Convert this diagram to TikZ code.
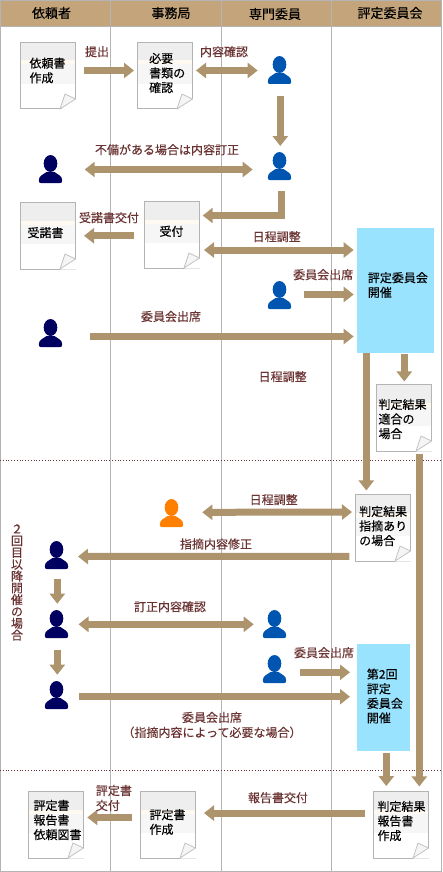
\documentclass[tikz,border=0pt]{standalone}
\usepackage{fontspec}
\usetikzlibrary{arrows.meta}
\setmainfont[FakeBold=0.25]{Noto Sans CJK JP}
\definecolor{headtan}{HTML}{C4A57B}
\definecolor{lanegray}{HTML}{B4B4B4}
\definecolor{flowtan}{HTML}{AD946D}
\definecolor{labred}{HTML}{6B3232}
\definecolor{boxblue}{HTML}{99E3FF}
\definecolor{pblue}{HTML}{0055B0}
\definecolor{pnavy}{HTML}{000060}
\definecolor{porange}{HTML}{FF8000}
\tikzset{
  lane/.style={draw=lanegray,line width=1pt},
  sepline/.style={draw=labred,line width=0.8pt,dotted},
  headlab/.style={font=\fontsize{13}{15}\selectfont,text=black,inner sep=0pt},
  lab/.style={font=\fontsize{12}{15}\selectfont,text=labred,inner sep=0pt,align=center},
  doctext/.style={font=\fontsize{12}{14.6}\selectfont,text=black,inner sep=0pt,align=left,anchor=west},
  docbox/.style={draw=lanegray,line width=1pt,minimum width=55pt,minimum height=66.5pt,inner sep=0pt},
  bluebox/.style={fill=boxblue,inner sep=0pt},
  conn/.style={draw=flowtan,line width=7pt,-{Triangle[length=10pt,width=15pt]}},
  conntwo/.style={draw=flowtan,line width=7pt,{Triangle[length=10pt,width=15pt]}-{Triangle[length=10pt,width=15pt]}},
  pnode/.style={inner sep=0pt,minimum width=23pt,minimum height=28pt}
}
% name, left, top, text left, text middle, text
\newcommand{\docn}[6]{%
  \node[docbox,fill=white] (#1) at (#2+27.5,#3+33.25) {};
  \begin{scope}[shift={(#2,#3)}]
    \fill[black!6.5] (0.5,0.5) rectangle (54.5,18);
    \fill[orange!5] (0.5,18) rectangle (54.5,22);
    \fill[black!3.5] (0.5,22) rectangle (54.5,41.5);
    \fill[white] (55.7,56.5) -- (55.7,67.2) -- (39.5,67.2) -- cycle;
    \draw[lanegray!80,line width=0.8pt,fill=black!4,line join=round] (55,56.5) -- (44.5,51.5) -- (39.5,66.5) -- cycle;
  \end{scope}
  \node[doctext] (#1t) at (#4,#5) {#6};
}
% name, centre x, top, colour
\newcommand{\persn}[4]{%
  \node[pnode] (#1) at (#2,#3+14) {};
  \begin{scope}[shift={(#2,#3)}]
    \fill[#4] (0,8.5) ellipse [x radius=6.8,y radius=8.5];
    \fill[#4] (-11.7,25.5) .. controls (-11.7,20.5) and (-7,19.5) .. (-4,17)
      -- (4,17) .. controls (7,19.5) and (11.7,20.5) .. (11.7,25.5)
      .. controls (11.7,27.5) and (11,28) .. (9.5,28) -- (-9.5,28)
      .. controls (-11,28) and (-11.7,27.5) .. (-11.7,25.5) -- cycle;
  \end{scope}
}
\newcommand{\conn}[5][conn]{\draw[#1] ([shift={(#3)}]#2.center) -- ([shift={(#5)}]#4.center);}
\begin{document}
\begin{tikzpicture}[x=1pt,y=-1pt]
\useasboundingbox (0,0) rectangle (442,872);
\fill[white] (0,0) rectangle (442,872);
% header and lanes
\fill[headtan] (0,0) rectangle (442,26);
\draw[lane] (0,0.5) -- (442,0.5);
\draw[lane] (0,26.3) -- (442,26.3);
\draw[lane] (0,871.5) -- (442,871.5);
\foreach \lx in {0.6,110.5,221.5,331.5,441.4} \draw[lane] (\lx,0) -- (\lx,872);
\node[headlab] (h1) at (51.5,13) {依頼者};
\node[headlab] (h2) at (171,13) {事務局};
\node[headlab] (h3) at (275,14) {専門委員};
\node[headlab] (h4) at (390,13) {評定委員会};
% separators
\coordinate (s1l) at (0,460.5); \coordinate (s1r) at (442,460.5);
\coordinate (s2l) at (0,770.5); \coordinate (s2r) at (442,770.5);
\draw[sepline] (s1l) -- (s1r);
\draw[sepline] (s2l) -- (s2r);
% blue boxes
\node[bluebox,minimum width=77pt,minimum height=125pt] (b1) at (395.5,290.5) {};
\node[bluebox,minimum width=53pt,minimum height=107pt] (b2) at (383.5,697.5) {};
\node[doctext] (b1t) at (367.7,285) {評定委員会\\開催};
\node[doctext] (b2t) at (366.7,696) {第2回\\評定\\委員会\\開催};
% documents
\docn{d1}{20.5}{42.5}{29.3}{70.5}{依頼書\\作成}
\docn{d2}{137.5}{42.5}{149}{73}{必要\\書類の\\確認}
\docn{d3}{20.5}{202.5}{27.3}{232.7}{受諾書}
\docn{d4}{144.5}{201.5}{159.3}{231.3}{受付}
\docn{d5}{376.5}{384.5}{378.3}{419}{判定結果\\適合の\\場合}
\docn{d6}{355.5}{494.5}{359}{526}{判定結果\\指摘あり\\の場合}
\docn{d7}{373.5}{791.5}{377.3}{821}{判定結果\\報告書\\作成}
\docn{d8}{28.5}{791.5}{33.3}{820}{評定書\\報告書\\依頼図書}
\docn{d9}{140.5}{791.5}{149.3}{822}{評定書\\作成}
% persons
\persn{p1}{279.5}{56}{pblue}
\persn{p2}{279.5}{152}{pblue}
\persn{p3}{279.5}{281}{pblue}
\persn{p4}{274.5}{610}{pblue}
\persn{p5}{274.5}{655}{pblue}
\persn{n1}{50.5}{155}{pnavy}
\persn{n2}{50.5}{319}{pnavy}
\persn{n3}{56.5}{541}{pnavy}
\persn{n4}{56.5}{610}{pnavy}
\persn{n5}{56.5}{681}{pnavy}
\persn{o1}{171.5}{499}{porange}
% connectors
\conn{d1}{36,-5.25}{d2}{-31,-5.25}
\conn[conntwo]{d2}{31,-5.25}{p1}{-21.8,0.5}
\conn{p1}{0.8,26}{p2}{0.8,-20}
\conn[conntwo]{n1}{34.2,0.5}{p2}{-26.8,3.5}
\draw[conn] ([shift={(2,25)}]p2.center) |- ([shift={(30.7,-19.25)}]d4.center);
\conn{d4}{-38,1}{d3}{36,0}
\conn[conntwo]{d4}{32,15.25}{b1}{-41.8,-40.5}
\conn{p3}{24.5,-0.5}{b1}{-41.8,4}
\conn{n2}{39.5,3.5}{b1}{-41.8,46}
\conn{b1}{-29.2,62.5}{d6}{-16.7,-37.3}
\conn{b1}{8.8,63.5}{d5}{0.3,-36.3}
\conn{d5}{15.3,36}{d7}{18.3,-38.3}
\conn[conntwo]{o1}{30.8,-0.7}{d6}{-31,-15.7}
\conn{d6}{-33.7,28.5}{n3}{21.5,1.5}
\conn{n3}{0.8,24}{n4}{0.8,-20.3}
\conn[conntwo]{n4}{22,0.3}{p4}{-20.8,0.3}
\conn{n4}{0.8,26}{n5}{0.8,-20.3}
\conn{p5}{25.5,3.3}{b2}{-33.5,-25.2}
\conn{n5}{22.5,1.7}{b2}{-33.5,-0.8}
\conn{b2}{2.8,55.8}{d7}{-14.7,-38.7}
\conn{d7}{-36.3,-11.7}{d9}{36,-11.7}
\conn{d9}{-36.3,-7.3}{d8}{31.3,-7.3}
% labels
\node[lab] (l1) at (97,51.7) {提出};
\node[lab] (l2) at (224,51.7) {内容確認};
\node[lab] (l3) at (167,149.7) {不備がある場合は内容訂正};
\node[lab] (l4) at (109,217.7) {受諾書交付};
\node[lab] (l5) at (276.7,236.7) {日程調整};
\node[lab] (l6) at (323.2,274.7) {委員会出席};
\node[lab] (l7) at (171,316.5) {委員会出席};
\node[lab] (l8) at (282.7,376.7) {日程調整};
\node[lab] (l9) at (273.7,499.7) {日程調整};
\node[lab] (l10) at (216,544) {指摘内容修正};
\node[lab] (l11) at (170,606.7) {訂正内容確認};
\node[lab] (l12) at (324,652.7) {委員会出席};
\node[lab] (l13) at (212,725) {委員会出席\\（指摘内容によって必要な場合）};
\node[lab] (l14) at (278,797.7) {報告書交付};
\node[lab,align=left,anchor=west] (l15) at (95.7,798) {評定書\\交付};
\node[lab,font=\fontsize{12}{11.8}\selectfont] (l16) at (17,582.5) {２\\回\\目\\以\\降\\開\\催\\の\\場\\合};
\end{tikzpicture}
\end{document}
